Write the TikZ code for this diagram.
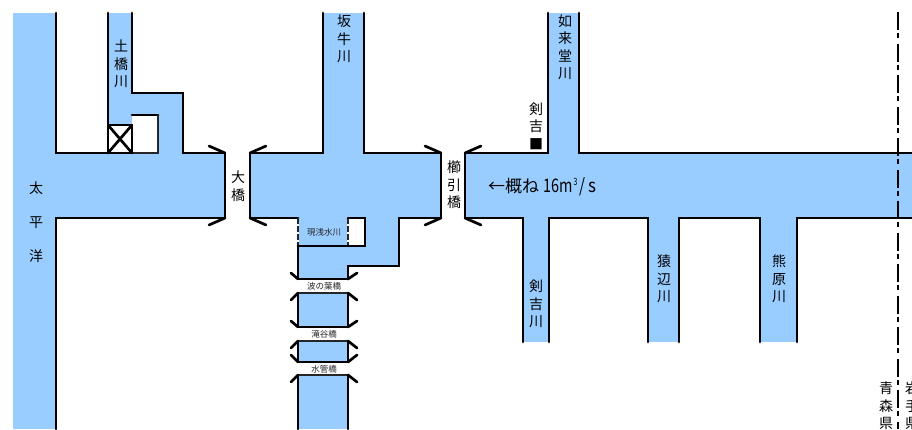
\documentclass[tikz,border=0pt]{standalone}
\usepackage{fontspec}
\usepackage{graphicx}
\setmainfont{Noto Sans CJK JP}
\definecolor{water}{HTML}{99CCFF}
\tikzset{
  x=1pt,y=-1pt,
  river/.style={fill=water,draw=none},
  bank/.style={draw=black,line width=2.7pt,line cap=round,line join=miter},
  thinbank/.style={draw=black!85,line width=1.5pt},
  label/.style={inner sep=0pt,align=center,font=\fontsize{14}{17.5}\selectfont},
  tiny/.style={inner sep=0pt,font=\fontsize{8.5}{8.5}\selectfont,text=black!85},
}
\begin{document}
\begin{tikzpicture}
\useasboundingbox (0,0) rectangle (912,429);
\clip (0,0) rectangle (912,429);
% water
\fill[river] (13,13) rectangle (56,429);
\fill[river] (56,153) rectangle (225,218);
\fill[river] (108,13) rectangle (132,125);
\fill[river] (132,93) rectangle (183,115);
\fill[river] (158,115) rectangle (183,153);
\fill[river] (250,153) rectangle (441,218);
\fill[river] (323,13) rectangle (364,153);
\fill[river] (298,218) rectangle (348,279);
\fill[river] (348,246) rectangle (399,266);
\fill[river] (365,218) rectangle (399,246);
\fill[river] (298,293) rectangle (348,327);
\fill[river] (298,341) rectangle (348,362);
\fill[river] (298,375) rectangle (348,429);
\fill[river] (465,153) rectangle (912,218);
\fill[river] (548,13) rectangle (579,153);
\fill[river] (523,218) rectangle (549,342);
\fill[river] (648,218) rectangle (679,342);
\fill[river] (760,218) rectangle (797,342);
% Pacific and Ohashi reach
\draw[bank] (56,13) -- (56,153) -- (108,153);
\draw[bank] (108,13) -- (108,153);
\draw[bank] (132,13) -- (132,93) -- (183,93) -- (183,153) -- (225,153) -- (225,218) -- (56,218) -- (56,429);
\draw[bank] (132,115) -- (158,115);
\draw[thinbank] (158,115) -- (158,153);
\draw[thinbank] (132,153) -- (159,153);
\draw[bank] (108,125) rectangle (132,153);
\draw[bank] (108,125) -- (132,153) (132,125) -- (108,153);
\draw[bank] (225,153) -- (209,146) (225,218) -- (209,225);
% middle reach
\draw[bank] (323,13) -- (323,153) -- (250,153) -- (250,218) -- (298,218);
\draw[bank] (364,13) -- (364,153) -- (441,153) -- (441,218) -- (399,218) -- (399,266) -- (348,266) -- (348,279);
\draw[bank] (250,153) -- (266,146) (250,218) -- (266,225) (441,153) -- (425,146) (441,218) -- (425,225);
\draw[thinbank] (298,218) -- (298,246);
\draw[thinbank] (348,218) -- (348,246);
\draw[white,line width=1.6pt,dash pattern=on 2pt off 6pt,dash phase=-6pt] (298,218) -- (298,246) (348,218) -- (348,246);
\draw[bank] (298,246) -- (365,246) -- (365,218) -- (348,218);
\draw[bank] (298,246) -- (298,279) -- (348,279);
\draw[bank] (298,279) -- (291,273) (348,279) -- (357,273);
\draw[thinbank] (298,293) -- (348,293);
\draw[bank] (298,293) -- (298,327) -- (348,327) -- (348,293);
\draw[bank] (298,293) -- (291,300) (348,293) -- (357,300) (298,327) -- (291,321) (348,327) -- (357,321);
\draw[thinbank] (298,341) -- (348,341);
\draw[bank] (298,341) -- (298,362) -- (348,362) -- (348,341);
\draw[bank] (298,341) -- (291,348) (348,341) -- (357,348) (298,362) -- (291,355) (348,362) -- (357,355);
\draw[thinbank] (298,375) -- (348,375);
\draw[bank] (298,429) -- (298,375) (348,429) -- (348,375);
\draw[bank] (298,375) -- (291,382) (348,375) -- (357,382);
% right reach
\draw[bank] (548,13) -- (548,153) -- (465,153) -- (465,218) -- (523,218) -- (523,342);
\draw[bank] (579,13) -- (579,153) -- (912,153);
\draw[bank] (549,342) -- (549,218) -- (648,218) -- (648,342);
\draw[bank] (679,342) -- (679,218) -- (760,218) -- (760,342);
\draw[bank] (797,342) -- (797,218) -- (912,218);
\draw[bank] (465,153) -- (481,146) (465,218) -- (481,225);
% prefecture border
\draw[black,line width=2.4pt,dash pattern=on 18pt off 3pt on 5pt off 5.5pt] (898,12) -- (898,429);
% labels
\node[label] (taiheiyo) at (36,222) {太\\[16.5pt]平\\[16.5pt]洋};
\node[label] (dobashi) at (121,64) {土\\橋\\川};
\node[label] (ohashi) at (238,186) {大\\橋};
\node[label] (sakaushi) at (344,39) {坂\\牛\\川};
\node[label] (kushibiki) at (454,185) {櫛\\引\\橋};
\node[label] (nyorai) at (565,47) {如\\来\\堂\\川};
\node[label] (kenyoshi) at (536,126) {剣\\吉\\■};
\node[label] (kenyoshig) at (536,304) {剣\\吉\\川};
\node[label] (saru) at (664,279) {猿\\辺\\川};
\node[label] (kuma) at (779,279) {熊\\原\\川};
\node[label] (aomori) at (886,406) {青\\森\\県};
\node[label] (iwate) at (912,406) {岩\\手\\県};
\node[tiny] (genasa) at (324,232) {現浅水川};
\node[tiny] (namino) at (324,286) {波の葉橋};
\node[tiny] (takiya) at (324,334) {滝谷橋};
\node[tiny] (suikan) at (324,369) {水管橋};
\node[inner sep=0pt,anchor=west,font=\fontsize{17}{17}\selectfont] (flow) at (488,187) {←概ね\hspace{4pt}\scalebox{0.85}[1.1]{16m}\hspace{1pt}\raisebox{7pt}{\scalebox{0.7}[1]{\fontsize{10}{10}\selectfont 3}}\hspace{1.5pt}\scalebox{0.9}[1.1]{/}\hspace{3pt}\scalebox{1}[1.1]{s}};
\end{tikzpicture}
\end{document}
